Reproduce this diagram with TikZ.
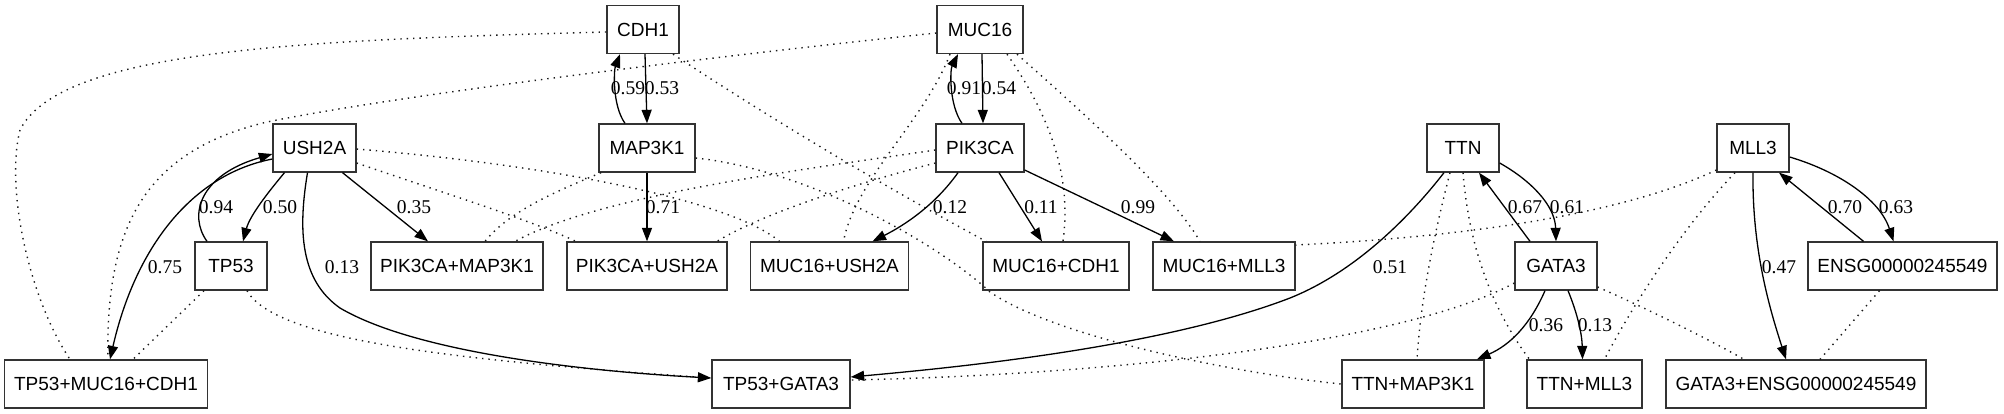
\documentclass[tikz,border=0pt]{standalone}
\usepackage{fontspec}
\newfontfamily\nodefont{Liberation Sans}
\newfontfamily\labfont{Liberation Serif}
\usetikzlibrary{arrows.meta}
\begin{document}
\begin{tikzpicture}[x=1pt,y=-1pt,
  gbox/.style={draw=black!80, line width=1.3pt, minimum height=48pt, minimum width=#1, inner sep=0pt, font=\nodefont\fontsize{19pt}{22pt}\selectfont},
  lab/.style={inner sep=0pt, font=\labfont\fontsize{19.5pt}{22pt}\selectfont},
  arr/.style={line width=1.3pt, -{Triangle[length=13.5pt,width=10pt]}},
  dotline/.style={line width=1.4pt, dash pattern=on 1.4pt off 5pt, black!90}]
\useasboundingbox (0,0) rectangle (2004,413);
% nodes
\node[gbox=72pt] (CDH1) at (643,29.5) {CDH1};
\node[gbox=86pt] (MUC16) at (980,29.5) {MUC16};
\node[gbox=83pt] (USH2A) at (314.5,148) {USH2A};
\node[gbox=96pt] (MAP3K1) at (647,148) {MAP3K1};
\node[gbox=88pt] (PIK3CA) at (980,148) {PIK3CA};
\node[gbox=72pt] (TTN) at (1463,148) {TTN};
\node[gbox=72pt] (MLL3) at (1753,148) {MLL3};
\node[gbox=72pt] (TP53) at (231,266) {TP53};
\node[gbox=172pt] (PM) at (457,266) {PIK3CA+MAP3K1};
\node[gbox=160pt] (PU) at (647,266) {PIK3CA+USH2A};
\node[gbox=158pt] (MU) at (829.5,266) {MUC16+USH2A};
\node[gbox=146pt] (MC) at (1056,266) {MUC16+CDH1};
\node[gbox=142pt] (ML) at (1224,266) {MUC16+MLL3};
\node[gbox=82pt] (GATA3) at (1556,266) {GATA3};
\node[gbox=189pt] (ENSG) at (1902.5,266) {ENSG00000245549};
\node[gbox=203pt] (TMC) at (106,384) {TP53+MUC16+CDH1};
\node[gbox=138pt] (TG) at (781,384) {TP53+GATA3};
\node[gbox=142pt] (TM) at (1413,384) {TTN+MAP3K1};
\node[gbox=115pt] (TL) at (1584.5,384) {TTN+MLL3};
\node[gbox=260pt] (GE) at (1796,384) {GATA3+ENSG00000245549};
% dotted edges
\draw[dotline] ([yshift=-2.5pt]CDH1.west) .. controls (300,40) and (60,50) .. (20,130) .. controls (5,190) and (30,300) .. ([xshift=-36pt]TMC.north);
\draw[dotline] ([yshift=-3.5pt]MUC16.west) .. controls (700,58) and (400,95) .. (267,122) .. controls (150,150) and (105,220) .. ([xshift=2pt]TMC.north);
\draw[dotline] ([xshift=-27pt]TP53.south) -- ([xshift=27pt]TMC.north);
\draw[dotline] ([xshift=16pt]TP53.south) .. controls (275,340) and (450,360) .. ([yshift=6pt]TG.west);
\draw[dotline] ([yshift=-17pt]GATA3.west) .. controls (1400,345) and (1100,375) .. ([yshift=4pt]TG.east);
\draw[dotline] ([xshift=-46pt]MAP3K1.south) .. controls (560,190) and (510,210) .. ([xshift=28pt]PM.north);
\draw[dotline] ([yshift=-2pt]PIK3CA.west) .. controls (800,170) and (600,195) .. ([xshift=58pt]PM.north);
\draw[dotline] ([yshift=-15pt]PIK3CA.west) .. controls (850,185) and (760,215) .. ([xshift=70pt]PU.north);
\draw[dotline] ([yshift=-15pt]USH2A.east) .. controls (450,195) and (530,220) .. ([xshift=-71pt]PU.north);
\draw[dotline] ([yshift=-1pt]USH2A.east) .. controls (550,165) and (730,200) .. ([xshift=-50pt]MU.north);
\draw[dotline] ([yshift=-10pt]MAP3K1.east) .. controls (810,170) and (940,245) .. (990,292) .. controls (1060,340) and (1250,375) .. (TM.west);
\draw[dotline] ([xshift=30pt]CDH1.south) .. controls (780,125) and (900,195) .. ([xshift=-70pt]MC.north);
\draw[dotline] ([xshift=-30pt]MUC16.south) .. controls (925,120) and (855,180) .. ([xshift=14pt]MU.north);
\draw[dotline] ([xshift=27pt]MUC16.south) .. controls (1060,130) and (1070,190) .. ([xshift=7pt]MC.north);
\draw[dotline] ([xshift=37pt]MUC16.south) .. controls (1080,110) and (1170,190) .. ([xshift=-24pt]ML.north);
\draw[dotline] ([yshift=-22pt]MLL3.west) .. controls (1600,225) and (1400,240) .. ([yshift=21pt]ML.east);
\draw[dotline] ([xshift=-13pt]TTN.south) .. controls (1430,250) and (1420,310) .. ([xshift=4pt]TM.north);
\draw[dotline] (TTN.south) .. controls (1470,260) and (1500,320) .. ([xshift=-55pt]TL.north);
\draw[dotline] ([xshift=-18pt]MLL3.south) .. controls (1680,230) and (1630,310) .. ([xshift=20pt]TL.north);
\draw[dotline] ([yshift=-21pt]GATA3.east) .. controls (1650,310) and (1710,340) .. ([xshift=-52pt]GE.north);
\draw[dotline] ([xshift=-23pt]ENSG.south) -- ([xshift=24pt]GE.north);
% solid edges
\draw[arr] ([xshift=-22pt]MAP3K1.north) .. controls (612,105) and (614,70) .. ([xshift=-23pt]CDH1.south);
\draw[arr] ([xshift=2pt]CDH1.south) -- (MAP3K1.north);
\draw[arr] ([xshift=-18pt]PIK3CA.north) .. controls (949,105) and (950,70) .. ([xshift=-22pt]MUC16.south);
\draw[arr] ([xshift=2pt]MUC16.south) -- ([xshift=3pt]PIK3CA.north);
\draw[arr] ([xshift=-30pt]USH2A.south) .. controls (270,190) and (250,215) .. ([xshift=12pt]TP53.north);
\draw[arr] ([xshift=-24pt]TP53.north) .. controls (188,215) and (200,175) .. ([yshift=-6pt]USH2A.west);
\draw[arr] ([yshift=-11pt]USH2A.west) .. controls (190,175) and (135,250) .. ([xshift=4pt]TMC.north);
\draw[arr] ([xshift=-7pt]USH2A.south) .. controls (298,230) and (300,280) .. (340,308) .. controls (420,355) and (600,372) .. ([yshift=6pt]TG.west);
\draw[arr] ([xshift=28pt]USH2A.south) -- ([xshift=-29pt]PM.north);
\draw[arr] (MAP3K1.south) -- (PU.north);
\draw[arr] ([xshift=-22pt]PIK3CA.south) .. controls (935,205) and (905,225) .. ([xshift=43pt]MU.north);
\draw[arr] ([xshift=19pt]PIK3CA.south) -- ([xshift=-14pt]MC.north);
\draw[arr] ([yshift=-22pt]PIK3CA.east) -- ([xshift=-50pt]ML.north);
\draw[arr] ([xshift=-19pt]TTN.south) .. controls (1415,210) and (1360,270) .. (1290,298) .. controls (1160,348) and (950,368) .. ([yshift=7pt]TG.east);
\draw[arr] ([xshift=-26pt]GATA3.north) -- ([xshift=16pt]TTN.south);
\draw[arr] ([yshift=-15pt]TTN.east) .. controls (1530,180) and (1555,205) .. (GATA3.north);
\draw[arr] ([xshift=-11pt]GATA3.south) .. controls (1530,325) and (1510,345) .. ([xshift=64pt]TM.north);
\draw[arr] ([xshift=12pt]GATA3.south) .. controls (1578,315) and (1582,335) .. ([xshift=-2pt]TL.north);
\draw[arr] (MLL3.south) .. controls (1752,250) and (1770,310) .. ([xshift=-10pt]GE.north);
\draw[arr] ([xshift=-39pt]ENSG.north) -- ([xshift=26pt]MLL3.south);
\draw[arr] ([yshift=-9pt]MLL3.east) .. controls (1840,172) and (1880,200) .. ([xshift=-9pt]ENSG.north);
% labels
\node[lab] (l1) at (628,88) {0.59};
\node[lab] (l2) at (662,88) {0.53};
\node[lab] (l3) at (964,88) {0.91};
\node[lab] (l4) at (999,88) {0.54};
\node[lab] (l5) at (280,207) {0.50};
\node[lab] (l6) at (216,207) {0.94};
\node[lab] (l7) at (165,267) {0.75};
\node[lab] (l8) at (342,267) {0.13};
\node[lab] (l9) at (414,207) {0.35};
\node[lab] (l10) at (663,207) {0.71};
\node[lab] (l11) at (950,207) {0.12};
\node[lab] (l12) at (1041,207) {0.11};
\node[lab] (l13) at (1138,207) {0.99};
\node[lab] (l14) at (1390,267) {0.51};
\node[lab] (l15) at (1525,207) {0.67};
\node[lab] (l16) at (1567,207) {0.61};
\node[lab] (l17) at (1546,325) {0.36};
\node[lab] (l18) at (1595,325) {0.13};
\node[lab] (l19) at (1779,267) {0.47};
\node[lab] (l20) at (1845,207) {0.70};
\node[lab] (l21) at (1896,207) {0.63};
\end{tikzpicture}
\end{document}
